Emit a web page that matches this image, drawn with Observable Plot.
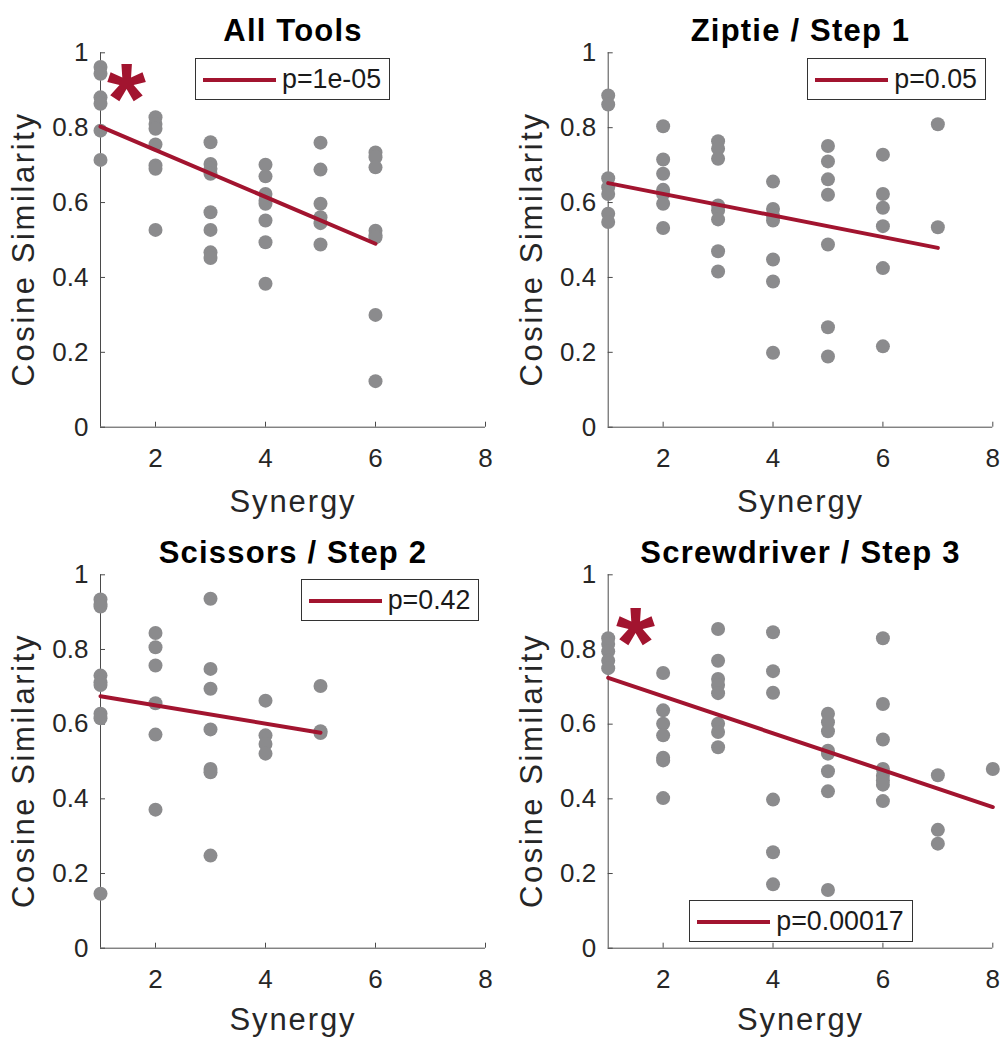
<!DOCTYPE html>
<html>
<head>
<meta charset="utf-8">
<script src="https://cdn.jsdelivr.net/npm/d3@7"></script>
<script src="https://cdn.jsdelivr.net/npm/@observablehq/plot@0.6"></script>
<style>
  html, body { margin: 0; padding: 0; background: white; }
  #root { position: relative; width: 1003px; height: 1038px; overflow: hidden; font-family: "Liberation Sans", Arial, Helvetica, sans-serif; }
  .panel { position: absolute; }
  .legend { position: absolute; box-sizing: border-box; height: 41.7px; border: 1px solid #333; background: white;
            padding-left: 86px; padding-right: 8px; font-size: 26.8px; line-height: 39px; padding-top: 1px; color: #1a1a1a; white-space: nowrap; }
  .legend .swatch { position: absolute; left: 7px; width: 73px; height: 4px; top: 18.5px; background: #A2142F; }
</style>
</head>
<body>
<div id="root"></div>
<script>
// ---------- data ----------
const titles = ["All Tools", "Ziptie / Step 1", "Scissors / Step 2", "Screwdriver / Step 3"];
const pLabels = ["p=1e-05", "p=0.05", "p=0.42", "p=0.00017"];
const xTicks = [2, 4, 6, 8];
const yTicks = [0, 0.2, 0.4, 0.6, 0.8, 1];

// cosine similarity values per synergy (index 0 -> synergy 1)
const allToolsY = [
  [0.962, 0.944, 0.881, 0.864, 0.792, 0.714],
  [0.828, 0.810, 0.797, 0.755, 0.699, 0.690, 0.527],
  [0.761, 0.703, 0.690, 0.677, 0.574, 0.527, 0.467, 0.452],
  [0.701, 0.670, 0.623, 0.605, 0.597, 0.552, 0.494, 0.383],
  [0.760, 0.688, 0.597, 0.561, 0.545, 0.488],
  [0.734, 0.721, 0.694, 0.525, 0.512, 0.507, 0.300, 0.123]
];
const ziptieY = [
  [0.886, 0.862, 0.665, 0.641, 0.623, 0.570, 0.548],
  [0.804, 0.715, 0.677, 0.634, 0.623, 0.597, 0.532],
  [0.764, 0.744, 0.717, 0.592, 0.579, 0.555, 0.470, 0.416],
  [0.656, 0.583, 0.565, 0.552, 0.448, 0.389, 0.199],
  [0.751, 0.710, 0.662, 0.621, 0.488, 0.267, 0.189],
  [0.728, 0.623, 0.586, 0.537, 0.425, 0.216],
  [0.809, 0.534]
];
const scissorsY = [
  [0.934, 0.922, 0.915, 0.730, 0.712, 0.705, 0.628, 0.616, 0.146],
  [0.844, 0.806, 0.757, 0.656, 0.572, 0.371],
  [0.936, 0.748, 0.695, 0.586, 0.480, 0.471, 0.248],
  [0.663, 0.570, 0.547, 0.521],
  [0.702, 0.581, 0.576]
];
const screwdriverY = [
  [0.830, 0.815, 0.795, 0.770, 0.750],
  [0.737, 0.637, 0.601, 0.570, 0.510, 0.503, 0.402],
  [0.855, 0.770, 0.721, 0.705, 0.683, 0.601, 0.579, 0.538],
  [0.846, 0.742, 0.684, 0.398, 0.257, 0.171],
  [0.628, 0.605, 0.581, 0.529, 0.521, 0.474, 0.420, 0.156],
  [0.830, 0.654, 0.559, 0.480, 0.462, 0.449, 0.438, 0.394],
  [0.463, 0.317, 0.280],
  [0.480]
];
const seriesY = [allToolsY, ziptieY, scissorsY, screwdriverY];

// regression line end points
const fitX = [[1, 6], [1, 7], [1, 5], [1, 8]];
const fitY = [[0.803, 0.490], [0.652, 0.479], [0.675, 0.577], [0.724, 0.378]];

// significance stars (null = none)
const starX = [1.47, null, null, 1.495];
const starY = [0.91, null, null, 0.851];

// ---------- layout / style ----------
const RED = "#A2142F", GRAY = "#8b8b8d", AX = "#4a4a4a", TXT = "#262626";
const FONT = '"Liberation Sans", Arial, Helvetica, sans-serif';
const layout = [
  {left: 0,   top: 0,   width: 500, height: 519, ml: 100,   mr: 15,   mt: 52.3, mb: 92.3, xlab: 85},
  {left: 500, top: 0,   width: 503, height: 519, ml: 107.7, mr: 10.7, mt: 52.3, mb: 92.3, xlab: 85},
  {left: 0,   top: 519, width: 500, height: 519, ml: 100,   mr: 15,   mt: 55.3, mb: 90.3, xlab: 82},
  {left: 500, top: 519, width: 503, height: 519, ml: 107.7, mr: 10.7, mt: 55.3, mb: 90.3, xlab: 82}
];
const legendPos = [
  {left: 195, top: 58.3}, {left: 807.3, top: 58.3}, {left: 300.7, top: 579.3}, {left: 689.3, top: 900}
];

const root = document.getElementById("root");

function makePanel(i) {
  const L = layout[i];
  const pw = L.width - L.ml - L.mr, ph = L.height - L.mt - L.mb;
  const pts = seriesY[i].flatMap((ys, k) => ys.map(y => ({x: k + 1, y})));
  const fit = fitX[i].map((x, j) => ({x, y: fitY[i][j]}));
  const marks = [
    Plot.ruleY([0], {stroke: AX, strokeWidth: 1}),
    Plot.ruleX([1], {stroke: AX, strokeWidth: 1}),
    Plot.tickX(xTicks, {x: d => d, insetTop: ph - 5, stroke: AX}),
    Plot.tickY(yTicks, {y: d => d, insetRight: pw - 5, stroke: AX}),
    Plot.axisX({ticks: xTicks, tickSize: 0, tickPadding: 21, fontSize: 26, fill: TXT, label: null,
                tickFormat: d => String(d)}),
    Plot.axisY({ticks: yTicks, tickSize: 0, tickPadding: 12, fontSize: 26, fill: TXT, label: null,
                tickFormat: d => String(+d.toFixed(1))}),
    Plot.dot(pts, {x: "x", y: "y", r: 7, fill: GRAY}),
    Plot.line(fit, {x: "x", y: "y", stroke: RED, strokeWidth: 4}),
    Plot.text([titles[i]], {text: d => d, frameAnchor: "top", dy: -12, lineAnchor: "bottom",
                textAnchor: "middle", fontWeight: "bold", fontSize: 31, fill: "black"}),
    Plot.text(["Synergy"], {text: d => d, frameAnchor: "bottom", dy: L.xlab, lineAnchor: "bottom",
                textAnchor: "middle", fontSize: 31, fill: TXT}),
    Plot.text(["Cosine Similarity"], {text: d => d, frameAnchor: "left", dx: -66.5, dy: 9, rotate: -90,
                textAnchor: "middle", lineAnchor: "bottom", fontSize: 31, fill: TXT})
  ];
  if (starX[i] != null) {
    marks.push(Plot.text([{x: starX[i], y: starY[i]}], {x: "x", y: "y", text: () => "*",
      fontSize: 100, fontWeight: "bold", fill: RED, lineAnchor: "bottom", dy: 47}));
  }
  const svg = Plot.plot({
    width: L.width, height: L.height,
    marginLeft: L.ml, marginRight: L.mr, marginTop: L.mt, marginBottom: L.mb,
    x: {domain: [1, 8]},
    y: {domain: [0, 1]},
    style: {fontFamily: FONT, background: "transparent", overflow: "visible"},
    marks
  });
  // slightly wider letter spacing for titles / axis labels (as in the reference)
  d3.select(svg).selectAll("text").each(function () {
    const t = this.textContent;
    if (t === titles[i]) this.setAttribute("letter-spacing", "1.2");
    else if (t === "Synergy") this.setAttribute("letter-spacing", "1.9");
    else if (t === "Cosine Similarity") this.setAttribute("letter-spacing", "2.6");
  });
  const div = document.createElement("div");
  div.className = "panel";
  div.style.left = L.left + "px";
  div.style.top = L.top + "px";
  div.appendChild(svg);
  root.appendChild(div);

  const lg = document.createElement("div");
  lg.className = "legend";
  lg.style.left = legendPos[i].left + "px";
  lg.style.top = legendPos[i].top + "px";
  const sw = document.createElement("div");
  sw.className = "swatch";
  lg.appendChild(sw);
  lg.appendChild(document.createTextNode(pLabels[i]));
  root.appendChild(lg);
}

for (let i = 0; i < 4; i++) makePanel(i);
</script>
</body>
</html>
